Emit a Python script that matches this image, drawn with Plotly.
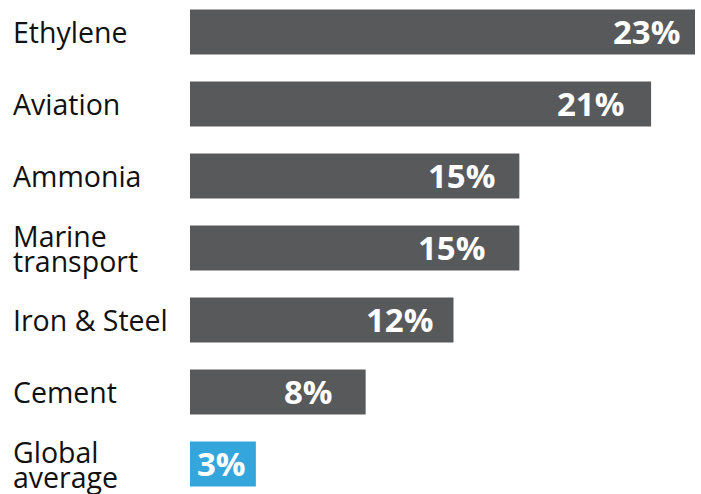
import plotly.graph_objects as go

# datos
categories = ["Ethylene", "Aviation", "Ammonia", "Marine<br>transport",
              "Iron & Steel", "Cement", "Global<br>average"]
shares = [23, 21, 15, 15, 12, 8, 3]
labels = ["23%", "21%", "15%", "15%", "12%", "8%", "3%"]

GRAY = "#58595b"
BLUE = "#35a6dc"
colors = [GRAY] * 6 + [BLUE]
# desplazamiento del texto dentro de cada barra (px)
text_shift = [-13, -25, -22, -32, -18, -31, -8]

FONT = "Open Sans, Noto Sans, sans-serif"
ypos = list(range(len(categories)))

fig = go.Figure(go.Bar(
    x=shares, y=ypos, orientation="h",
    marker=dict(color=colors, line=dict(width=0)),
    width=0.625, hoverinfo="skip",
))

annotations = []
for i, (cat, val, lab) in enumerate(zip(categories, shares, labels)):
    annotations.append(dict(
        x=val, y=i, xref="x", yref="y", text="<b>" + lab + "</b>",
        showarrow=False, xanchor="right", yanchor="middle",
        xshift=text_shift[i], font=dict(family=FONT, size=33, color="white"),
    ))
    lines = cat.split("<br>")
    shifts = [0] if len(lines) == 1 else [12, -13]
    for line, dy in zip(lines, shifts):
        annotations.append(dict(
            x=-179 / 505, y=i, xref="paper", yref="y", text=line,
            showarrow=False, xanchor="left", yanchor="middle",
            yshift=dy, font=dict(family=FONT, size=28.5, color="#111111"),
        ))

fig.update_layout(
    width=701, height=494,
    margin=dict(l=190, r=6, t=0, b=0),
    plot_bgcolor="white", paper_bgcolor="white",
    showlegend=False,
    xaxis=dict(range=[0, 23], visible=False, fixedrange=True),
    yaxis=dict(range=[6.417, -0.444], visible=False, fixedrange=True),
    annotations=annotations,
)

# quitar el margen del body para que la figura quede en (0,0)
fig.write_html("out.html", config={"displayModeBar": False},
               post_script="document.body.style.margin='0';")
